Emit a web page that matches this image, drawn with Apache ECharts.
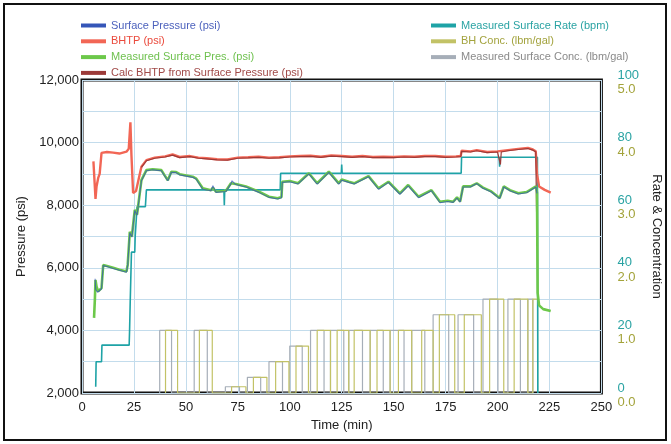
<!DOCTYPE html>
<html>
<head>
<meta charset="utf-8">
<script src="https://cdn.jsdelivr.net/npm/echarts@6/dist/echarts.min.js"></script>
<style>html,body{margin:0;padding:0;background:#fff}#c{width:671px;height:444px}</style>
</head>
<body>
<div id="c"></div>
<script>
// ---------- DATA ----------
const xTicks = [0, 25, 50, 75, 100, 125, 150, 175, 200, 225, 250];
const pressureTicks = [2000, 4000, 6000, 8000, 10000, 12000];
const rateTicks = [0, 20, 40, 60, 80, 100];
const concTicks = ['0.0', '1.0', '2.0', '3.0', '4.0', '5.0'];

// [time (min), psi]
const bhtp = [[5.5,9400],[6.2,9450],[6.5,8200],[7,8600],[7.8,8870],[8.5,9000],[9.4,9670],[12,9700],[15,9680],[18,9650],[21.4,9710],[22.5,9800],[23.3,10650],[23.8,9600],[24.6,8390],[26,8450],[26.8,8490],[28.6,9230],[31,9440],[35,9520],[40,9560],[43.6,9620],[47,9540],[52,9570],[56,9520],[60,9500],[65,9470],[70,9460],[75,9520],[80,9530],[85,9550],[90,9520],[95,9530],[100,9560],[105,9570],[110,9580],[115,9550],[120,9590],[125,9570],[130,9550],[135,9570],[140,9540],[145,9550],[150,9540],[155,9560],[160,9550],[165,9570],[170,9570],[175,9550],[180,9560],[182.3,9570],[182.7,9740],[187,9720],[190,9760],[195,9700],[200,9720],[205,9760],[210,9800],[214.6,9830],[217,9780],[218.4,9720],[219,9000],[220,8600],[222.7,8490],[225.6,8400]];
const calcBhtp = [[28.6,9210],[31,9420],[35,9500],[40,9540],[43.6,9600],[47,9520],[52,9550],[56,9500],[60,9480],[65,9450],[70,9440],[75,9500],[80,9510],[85,9530],[90,9500],[95,9510],[100,9540],[105,9550],[110,9560],[115,9530],[120,9570],[125,9550],[130,9530],[135,9550],[140,9520],[145,9530],[150,9520],[155,9540],[160,9530],[165,9550],[170,9550],[175,9530],[180,9540],[182.3,9550],[182.7,9720],[187,9700],[190,9740],[195,9680],[200,9700],[201.4,9300],[201.8,9700],[205,9740],[210,9780],[214.6,9810],[217,9760],[218.4,9700],[218.8,7750]];
const surfacePressure = [[6.3,5650],[6.6,5300],[7.5,5220],[9.4,5330],[10.2,6070],[12,6040],[15,5980],[18,5920],[21.4,5860],[22,6080],[23,7120],[24,6980],[25.4,7830],[26.5,7680],[28.6,8780],[31,9100],[34,9130],[38.2,9100],[39.7,8940],[41.3,8780],[43,9050],[45.3,9040],[47,8970],[53.3,8890],[55,8830],[58.1,8510],[62.1,8460],[63,8620],[64.5,8410],[69.3,8440],[71.7,8680],[72.2,8780],[74,8660],[78.9,8580],[85.2,8410],[90,8250],[94.2,8200],[96,8240],[96.4,8730],[100,8750],[104,8680],[109.2,9000],[113.2,8670],[118.8,9050],[123.6,8670],[125,8800],[128.4,8730],[131,8680],[137.9,8910],[142.7,8510],[147.5,8730],[153,8350],[157,8620],[162,8240],[168.2,8460],[172.3,8080],[176,8120],[178.6,8090],[180.5,8230],[182,8100],[182.7,8150],[183.4,8580],[187,8580],[190,8690],[193,8540],[197,8420],[201,8210],[203,8580],[206,8460],[210,8360],[214,8400],[218.5,8580],[219,8380]];
const measuredSurfacePres = [[5.8,4400],[6.2,5000],[6.5,5610],[7,5400],[7.8,5250],[9.4,5350],[10.2,6090],[12,6060],[15,6000],[18,5940],[21.4,5880],[22,6100],[23,7150],[24,7000],[25.4,7850],[26.5,7700],[28.6,8800],[31,9120],[34,9150],[38.2,9120],[39.7,8960],[41.3,8800],[43,9070],[45.3,9060],[47,8990],[53.3,8910],[55,8850],[58.1,8540],[62.1,8480],[63,8560],[64.5,8430],[69.3,8460],[71.7,8700],[74,8680],[78.9,8600],[85.2,8430],[90,8270],[94.2,8220],[96,8260],[96.4,8750],[100,8770],[104,8700],[109.2,9020],[113.2,8700],[118.8,9070],[123.6,8700],[125,8820],[128.4,8750],[131,8700],[137.9,8930],[142.7,8540],[147.5,8750],[153,8380],[157,8645],[162,8270],[168.2,8480],[172.3,8110],[176,8140],[178.6,8110],[180.5,8250],[182,8120],[182.7,8170],[183.4,8600],[187,8600],[190,8700],[193,8560],[197,8440],[201,8230],[203,8600],[206,8480],[210,8380],[214,8420],[218.5,8600],[219,8400],[219.3,5200],[220,4800],[222,4680],[225.6,4620]];
// [time (min), bpm]
const surfaceRate = [[6.6,2],[6.8,10],[9.4,10],[9.6,15.3],[22.7,15.3],[22.9,20],[23.2,29],[23.8,45],[25.4,45],[25.6,50],[26.5,59.5],[30.5,59.5],[31,64.9],[68.3,64.9],[68.5,60],[68.7,64.9],[95.4,64.9],[95.6,70.2],[124.8,70.2],[125,73],[125.2,70.2],[182.5,70.2],[182.7,75.3],[200.8,75.3],[201,72.3],[201.2,75.3],[219.2,75.3],[219.4,0]];
// pulses: [start (min), end (min), lbm/gal]
const surfaceConcPulses = [[37.4,43.1,1.0],[54,60.3,1.0],[69,75.8,0.1],[79.6,86,0.25],[90,96.5,0.5],[100,106,0.75],[110,116.5,1.0],[119.6,126,1.0],[128.4,135,1.0],[138.7,145,1.0],[148.3,155,1.0],[158.7,165,1.0],[169,176.5,1.25],[181,188.5,1.25],[193,200.2,1.5],[205,211,1.5],[214.6,217,1.5]];
const bhConcPulses = [[40.2,46,1.0],[56.5,62.7,1.0],[72,78.9,0.1],[82.5,89,0.25],[93.2,99.6,0.5],[103,109,0.75],[113.2,119.6,1.0],[122.8,128.4,1.0],[131,138.7,1.0],[142,148.3,1.0],[152.3,158.7,1.0],[163.5,169,1.0],[172,179.4,1.25],[184,192.2,1.25],[196.2,203,1.5],[208,214.6,1.5],[217,219.3,1.5]];

// ---------- BUILD ----------
function pulsesToSteps(p) {
  const out = [];
  p.forEach(([s, e, v]) => { out.push([s, 0], [s, v], [e, v], [e, 0]); });
  return out;
}
const FONT = '"Liberation Sans", Arial, Helvetica, sans-serif';
const chart = echarts.init(document.getElementById('c'), null, { renderer: 'canvas' });

const C = {
  sp: '#3556b8', bhtp: '#f26655', msp: '#6cc84a', calc: '#9c3a38',
  rate: '#1ea3a6', bh: '#c2c266', msc: '#a6aeb8'
};
function lineSeries(name, data, color, width, yIdx, z, opacity) {
  return { name, type: 'line', data, yAxisIndex: yIdx, showSymbol: false, symbol: 'none',
    lineStyle: { color, width, opacity: opacity == null ? 1 : opacity }, itemStyle: { color }, z, animation: false };
}

const option = {
  animation: false,
  backgroundColor: '#fff',
  textStyle: { fontFamily: FONT },
  grid: { left: 82, top: 80, right: 66, bottom: 51, show: true, borderColor: '#111', borderWidth: 3, backgroundColor: 'transparent' },
  graphic: [{ type: 'rect', shape: { x: 4, y: 4, width: 662, height: 436 }, style: { fill: 'none', stroke: '#111', lineWidth: 2 }, z: 100 }],
  legend: [
    { left: 76, top: 15, orient: 'vertical', icon: 'rect', itemWidth: 25, itemHeight: 4, itemGap: 4.8,
      textStyle: { fontSize: 11, fontFamily: FONT },
      data: [
        { name: 'Surface Pressure (psi)', textStyle: { color: '#4d62bd' } },
        { name: 'BHTP (psi)', textStyle: { color: '#ea4a3c' } },
        { name: 'Measured Surface Pres. (psi)', textStyle: { color: '#6fc14f' } },
        { name: 'Calc BHTP from Surface Pressure (psi)', textStyle: { color: '#a14a48' } }
      ] },
    { left: 426, top: 15, orient: 'vertical', icon: 'rect', itemWidth: 25, itemHeight: 4, itemGap: 4.8,
      textStyle: { fontSize: 11, fontFamily: FONT },
      data: [
        { name: 'Measured Surface Rate (bpm)', textStyle: { color: '#2aa3a3' } },
        { name: 'BH Conc. (lbm/gal)', textStyle: { color: '#a3a33e' } },
        { name: 'Measured Surface Conc. (lbm/gal)', textStyle: { color: '#8a8a8a' } }
      ] }
  ],
  xAxis: {
    type: 'value', min: 0, max: 250, interval: 25,
    name: 'Time (min)', nameLocation: 'middle', nameGap: 22,
    nameTextStyle: { fontSize: 13, color: '#222', fontFamily: FONT },
    axisLine: { show: false }, axisTick: { show: false },
    axisLabel: { fontSize: 13, color: '#222', margin: 8, fontFamily: FONT,
      formatter: v => xTicks.includes(v) ? String(v) : '' },
    splitLine: { show: true, lineStyle: { color: '#c3dcec', width: 1 } }
  },
  yAxis: [
    { type: 'value', min: 2000, max: 12000, interval: 1000, position: 'left',
      name: 'Pressure (psi)', nameLocation: 'middle', nameGap: 54,
      nameTextStyle: { fontSize: 13, color: '#222', fontFamily: FONT },
      axisLine: { show: false }, axisTick: { show: false },
      axisLabel: { fontSize: 13, color: '#222', margin: 3, fontFamily: FONT,
        formatter: v => pressureTicks.includes(v) ? v.toLocaleString('en-US') : '' },
      splitLine: { show: true, lineStyle: { color: '#c3dcec', width: 1 } } },
    { type: 'value', min: 0, max: 100, interval: 20, position: 'right',
      name: 'Rate & Concentration', nameLocation: 'middle', nameGap: 44, nameRotate: -90,
      nameTextStyle: { fontSize: 13, color: '#222', fontFamily: FONT },
      axisLine: { show: false }, axisTick: { show: false }, splitLine: { show: false },
      axisLabel: { margin: 16, fontFamily: FONT,
        formatter: v => { const i = rateTicks.indexOf(v); return i < 0 ? '' : '{a|' + v + '}\n{b|' + concTicks[i] + '}'; },
        rich: {
          a: { fontSize: 13, color: '#2aa3a3', lineHeight: 14, padding: [4, 0, 0, 0], fontFamily: FONT, align: 'left' },
          b: { fontSize: 13, color: '#a3a33a', lineHeight: 14, padding: [5, 0, 0, 0], fontFamily: FONT, align: 'left' }
        } } },
    { type: 'value', min: 0, max: 5, position: 'right', show: false, splitLine: { show: false } }
  ],
  series: [
    lineSeries('Measured Surface Conc. (lbm/gal)', pulsesToSteps(surfaceConcPulses), C.msc, 1.2, 2, 1),
    lineSeries('BH Conc. (lbm/gal)', pulsesToSteps(bhConcPulses), C.bh, 1.2, 2, 2),
    lineSeries('Measured Surface Rate (bpm)', surfaceRate, C.rate, 1.6, 1, 3),
    lineSeries('BHTP (psi)', bhtp, C.bhtp, 2.4, 0, 4),
    lineSeries('Calc BHTP from Surface Pressure (psi)', calcBhtp, C.calc, 1.2, 0, 5),
    lineSeries('Measured Surface Pres. (psi)', measuredSurfacePres, C.msp, 2.6, 0, 6),
    lineSeries('Surface Pressure (psi)', surfacePressure, C.sp, 1.1, 0, 7, 0.75)
  ]
};
chart.setOption(option);
</script>
</body>
</html>
